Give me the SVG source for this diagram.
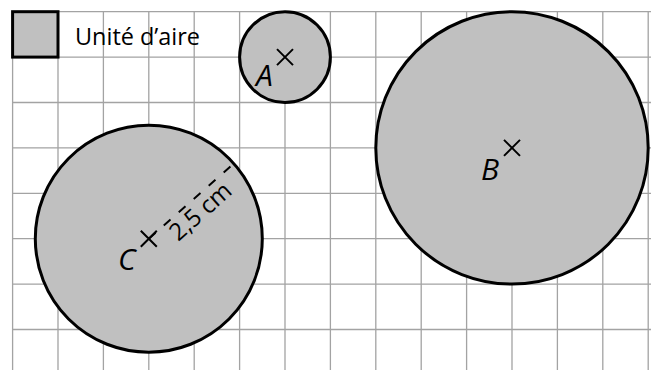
<svg xmlns="http://www.w3.org/2000/svg" width="651" height="370" viewBox="0 0 651 370">
<style>
.grid{stroke:#a3a3a3;stroke-width:1.3;fill:none}
.disk{fill:#c0c0c0;stroke:#000;stroke-width:3}
.cross{stroke:#000;stroke-width:2;fill:none}
.lbl{font-family:"Open Sans","DejaVu Sans",sans-serif;font-style:italic;font-size:30px;fill:#000}
.txt{font-family:"Open Sans","DejaVu Sans",sans-serif;font-size:23px;fill:#000}
.dash{stroke:#000;stroke-width:2;stroke-dasharray:9 11;fill:none}
</style>
<defs>
<path id="x" d="M-8,-8L8,8M-8,8L8,-8"/>
</defs>
<rect width="651" height="370" fill="#fff"/>
<g id="grid" class="grid">
<path d="M12.6,11.7V370M58,11.7V370M103.4,11.7V370M148.8,11.7V370M194.2,11.7V370M239.6,11.7V370M285,11.7V370M330.4,11.7V370M375.8,11.7V370M421.2,11.7V370M466.6,11.7V370M512,11.7V370M557.4,11.7V370M602.8,11.7V370M648.2,11.7V370"/>
<path d="M12.6,11.7H651M12.6,57.1H651M12.6,102.5H651M12.6,147.9H651M12.6,193.3H651M12.6,238.7H651M12.6,284.1H651M12.6,329.5H651"/>
</g>
<g id="unit">
<rect class="disk" x="12.6" y="11.7" width="45.4" height="45.4"/>
<text class="txt" x="75" y="45" textLength="125" lengthAdjust="spacingAndGlyphs">Unité d’aire</text>
</g>
<g id="A">
<circle class="disk" cx="285" cy="57.1" r="45.4"/>
<use href="#x" class="cross" x="285" y="57.1"/>
<text class="lbl" x="256" y="86">A</text>
</g>
<g id="B">
<circle class="disk" cx="512" cy="147.9" r="136.2"/>
<use href="#x" class="cross" x="512" y="147.9"/>
<text class="lbl" x="481" y="180">B</text>
</g>
<g id="C">
<circle class="disk" cx="148.8" cy="238.7" r="113.5"/>
<use href="#x" class="cross" x="148.8" y="238.7"/>
<text class="lbl" x="118" y="270">C</text>
</g>
<g id="connectors">
<g transform="translate(148.8,238.7) rotate(-41.5)">
<path class="dash" d="M0,0H113.5"/>
<text class="txt" x="20" y="22" style="font-size:24px">2,5 cm</text>
</g>
</g>
</svg>
